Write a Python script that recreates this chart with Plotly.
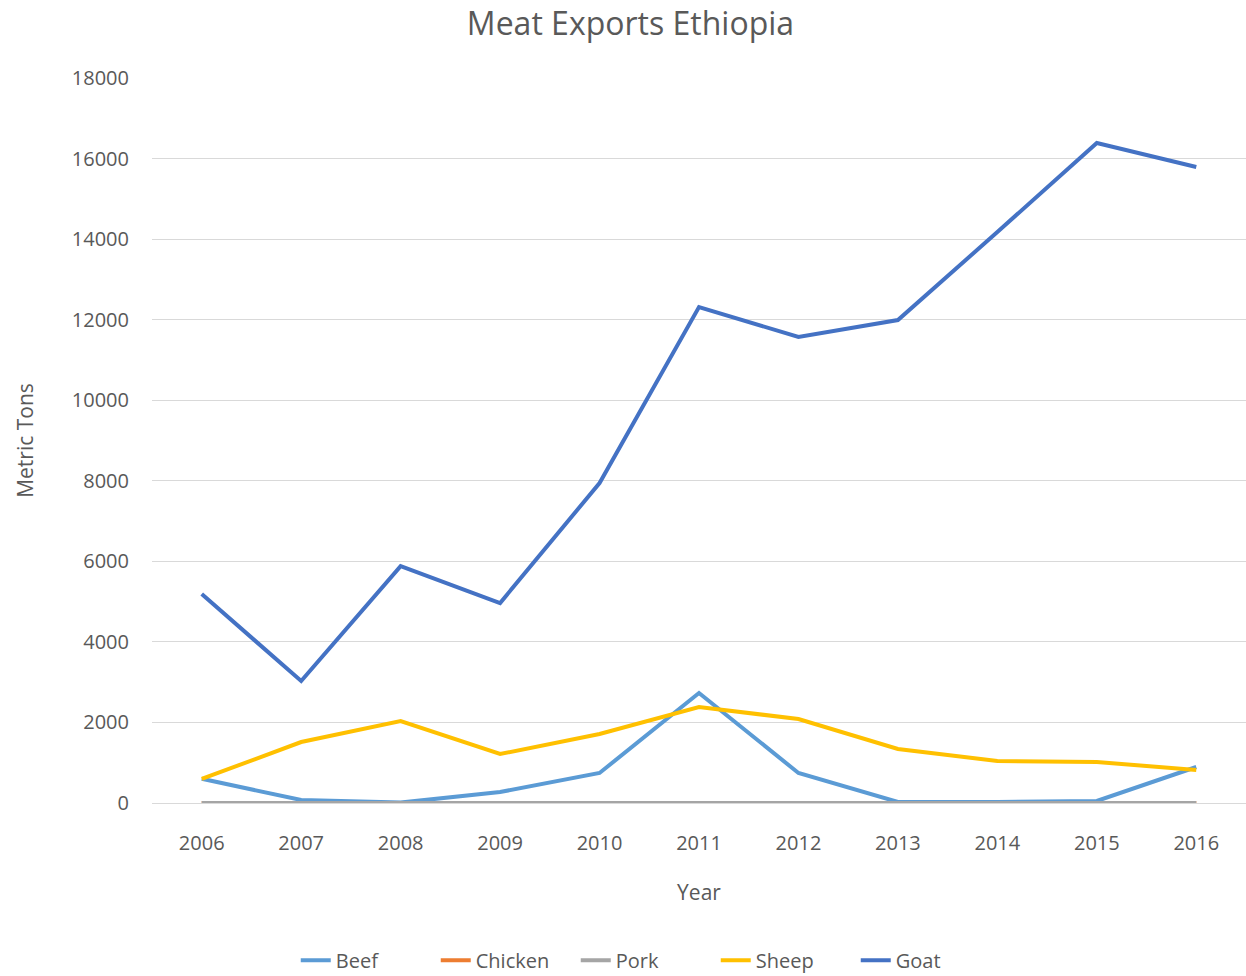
import plotly.graph_objects as go

years = ["2006", "2007", "2008", "2009", "2010", "2011", "2012", "2013", "2014", "2015", "2016"]
beef = [600, 75, 10, 273, 745, 2731, 745, 25, 25, 50, 894]
chicken = [0, 0, 0, 0, 0, 0, 0, 0, 0, 0, 0]
pork = [0, 0, 0, 0, 0, 0, 0, 0, 0, 0, 0]
sheep = [596, 1514, 2036, 1216, 1713, 2383, 2085, 1340, 1043, 1018, 819]
goat = [5189, 3029, 5880, 4965, 7944, 12314, 11569, 11991, 14176, 16385, 15790]

series = [
    ("Beef", beef, "#5b9bd5"),
    ("Chicken", chicken, "#ed7d31"),
    ("Pork", pork, "#a5a5a5"),
    ("Sheep", sheep, "#ffc000"),
    ("Goat", goat, "#4472c4"),
]

fig = go.Figure()
for name, vals, color in series:
    fig.add_trace(go.Scatter(x=years, y=vals, name=name, mode="lines",
                             line=dict(color=color, width=4)))

font = "Open Sans"
fig.update_layout(
    width=1246, height=976,
    paper_bgcolor="white", plot_bgcolor="white",
    margin=dict(l=152, r=0, t=78, b=173, autoexpand=False),
    font=dict(family=font, color="#595959", size=20),
    title=dict(text="Meat Exports Ethiopia", x=0.506, xanchor="center",
               y=0.976, yanchor="middle", font=dict(size=32, color="#595959")),
    showlegend=True,
    legend=dict(orientation="h", x=0.1314, xanchor="left",
                y=-0.217, yanchor="middle", entrywidth=95, entrywidthmode="pixels",
                font=dict(size=20), tracegroupgap=0),
    xaxis=dict(type="category", range=[-0.5, 10.5], showgrid=False,
               showline=False, ticks="", ticklabelstandoff=26, automargin=False,
               title=dict(text="Year", standoff=30, font=dict(size=21))),
    yaxis=dict(range=[0, 18000], dtick=2000, tickformat="d",
               showgrid=True, gridcolor="#d9d9d9", gridwidth=1,
               zeroline=True, zerolinecolor="#d9d9d9", zerolinewidth=1,
               showline=False, ticks="", ticklabelstandoff=22, automargin=False,
               title=dict(text="Metric Tons", standoff=32, font=dict(size=21))),
)

fig.write_html("out.html", config={"displayModeBar": False},
               post_script="document.body.style.margin='0';document.body.style.overflow='hidden';")
